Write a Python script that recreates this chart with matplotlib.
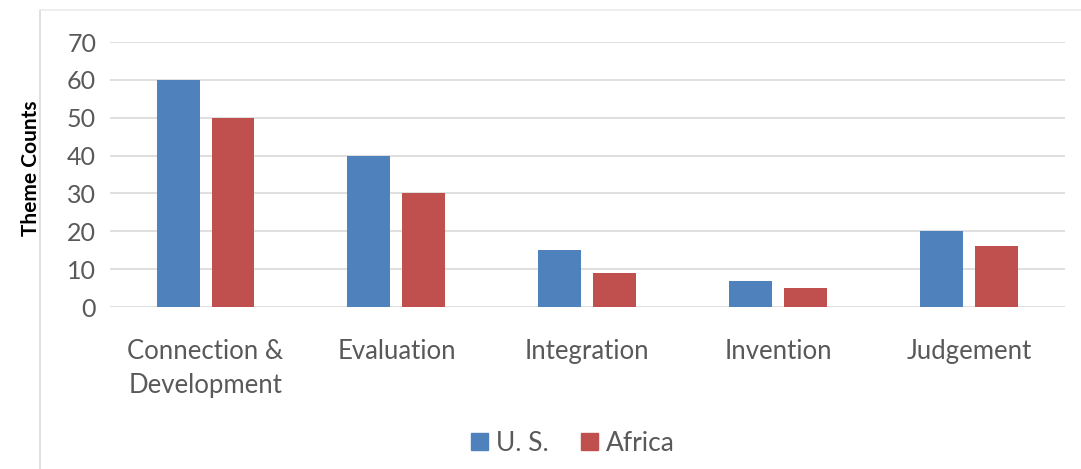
import numpy as np
import matplotlib.pyplot as plt
from matplotlib.lines import Line2D
from matplotlib.patches import Patch

# data
categories = ['Connection &\nDevelopment', 'Evaluation', 'Integration', 'Invention', 'Judgement']
us_counts = [60, 40, 15, 7, 20]
africa_counts = [50, 30, 9, 5, 16]
series_names = ['U. S.', 'Africa']

blue = '#4F81BD'
red = '#C0504D'
txt = '#595959'

plt.rcParams['font.family'] = ['Lato', 'DejaVu Sans']

fig = plt.figure(figsize=(10.81, 4.69), dpi=100)
ax = fig.add_axes([0.1018, 0.3454, 0.8832, 0.565])

x = np.arange(len(categories))
w = 0.225
off = 0.144
ax.bar(x - off, us_counts, width=w, color=blue, zorder=3)
ax.bar(x + off, africa_counts, width=w, color=red, zorder=3)

ax.set_xlim(-0.5, len(categories) - 0.5)
ax.set_ylim(0, 70)
ax.set_yticks(range(0, 71, 10))
ax.yaxis.grid(True, color='#D9D9D9', linewidth=1.2, zorder=0)
for s in ax.spines.values():
    s.set_visible(False)
ax.tick_params(axis='y', length=0, labelsize=18, labelcolor=txt, pad=10)
ax.tick_params(axis='x', length=0, labelsize=18.5, labelcolor=txt, pad=23)
ax.set_xticks(x)
ax.set_xticklabels(categories, linespacing=1.45)

fig.text(0.029, 0.642, 'Theme Counts', rotation=90, fontsize=15,
         fontweight='bold', ha='center', va='center', color='black')

handles = [Patch(color=blue, label=series_names[0]),
           Patch(color=red, label=series_names[1])]
leg = fig.legend(handles=handles, loc='center', bbox_to_anchor=(0.53, 0.055),
                 ncol=2, frameon=False, fontsize=19, handlelength=0.65,
                 handleheight=0.65, handletextpad=0.3, columnspacing=1.2)
for t in leg.get_texts():
    t.set_color(txt)

# chart border (left and top)
fig.add_artist(Line2D([0.037, 0.037], [0.0, 0.979], color='#D9D9D9', lw=1.2))
fig.add_artist(Line2D([0.037, 1.0], [0.979, 0.979], color='#EBEBEB', lw=1.2))

fig.savefig('out.png', dpi=100)
